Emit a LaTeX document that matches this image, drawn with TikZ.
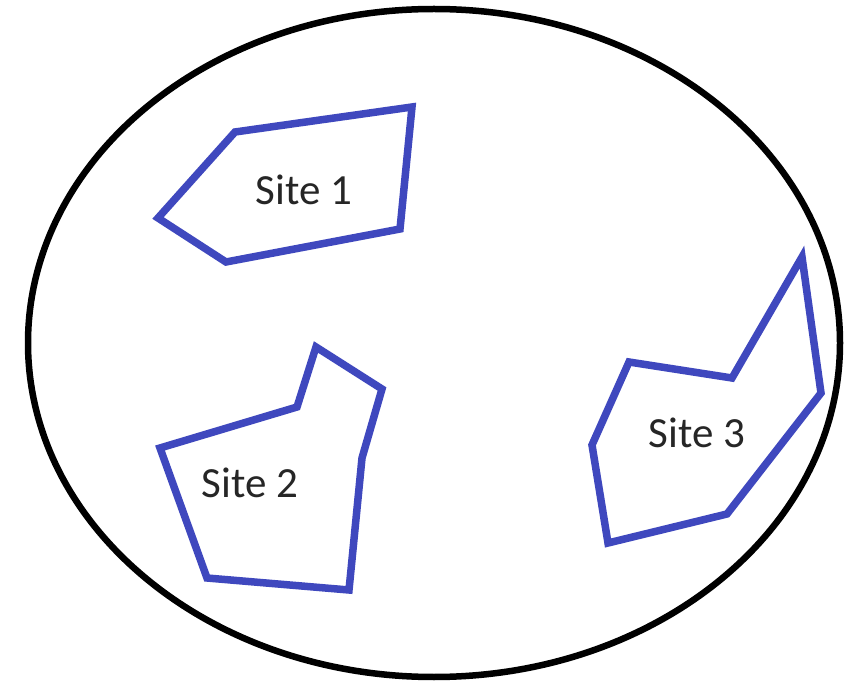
\documentclass[tikz,border=0pt]{standalone}
\usepackage{fontspec}
\setmainfont{Carlito}
\definecolor{siteblue}{RGB}{63,72,190}
\tikzset{
  site/.style={draw=siteblue, line width=7.5pt, line join=miter},
  lbl/.style={font=\fontsize{43}{43}\selectfont, text=black!85, inner sep=0pt, anchor=base},
}
\begin{document}
\begin{tikzpicture}[x=1pt,y=-1pt]
\useasboundingbox (0,0) rectangle (857,684);
\fill[white] (0,0) rectangle (857,684);
\draw[line width=6.5pt, black] (434,343) ellipse [x radius=406, y radius=334];
% Site 1
\draw[site] (235,132) -- (412,107) -- (400,229) -- (226,262) -- (158,218) -- cycle;
\node[lbl] (s1) at (304,205) {Site 1};
% Site 2
\draw[site] (316,347) -- (382,389) -- (362,458) -- (349,590) -- (207,578) -- (160,448) -- (297,407) -- cycle;
\node[lbl] (s2) at (250,497) {Site 2};
% Site 3
\draw[site] (629,362) -- (732,378) -- (802,257) -- (821,393) -- (727,514) -- (608,543) -- (592,445) -- cycle;
\node[lbl] (s3) at (697,448) {Site 3};
\end{tikzpicture}
\end{document}
